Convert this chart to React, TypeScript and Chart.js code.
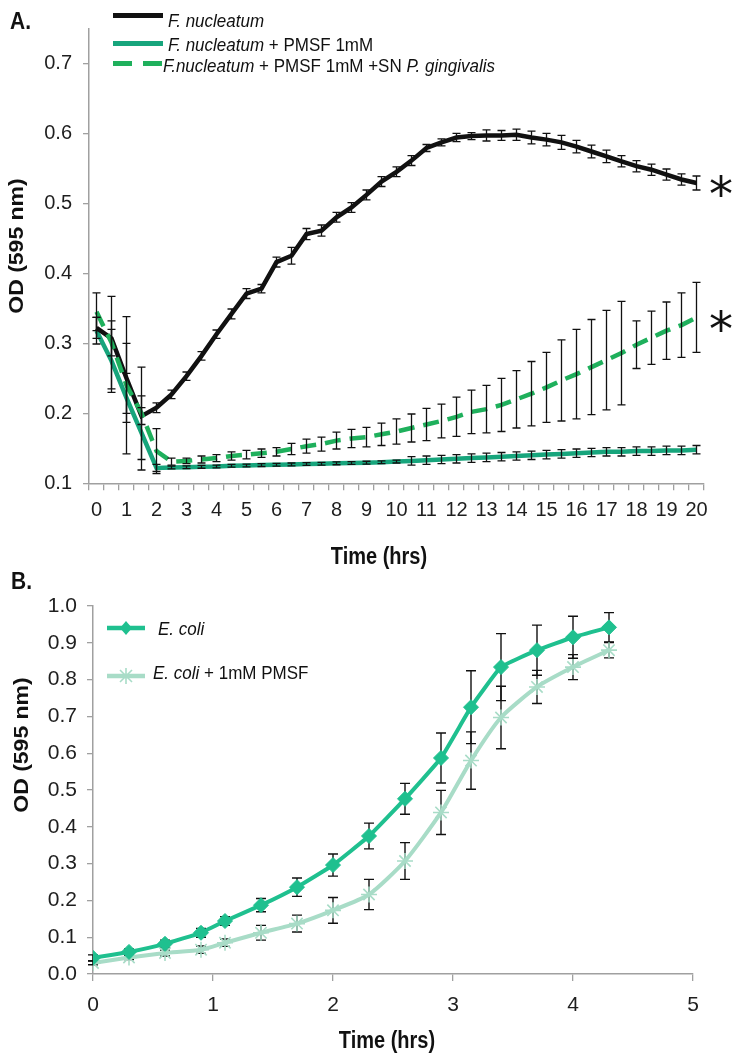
import React, { useEffect, useRef } from 'react';
import { Chart, registerables } from 'chart.js';

Chart.register(...registerables);

// ---------- Panel A data ----------
const timesA = [0, 0.5, 1, 1.5, 2, 2.5, 3, 3.5, 4, 4.5, 5, 5.5, 6, 6.5, 7, 7.5, 8, 8.5, 9, 9.5, 10, 10.5, 11, 11.5, 12, 12.5, 13, 13.5, 14, 14.5, 15, 15.5, 16, 16.5, 17, 17.5, 18, 18.5, 19, 19.5, 20];

const fnOD = [0.322, 0.307, 0.25, 0.196, 0.208, 0.227, 0.253, 0.282, 0.313, 0.342, 0.371, 0.378, 0.416, 0.425, 0.456, 0.461, 0.48, 0.494, 0.512, 0.531, 0.545, 0.561, 0.579, 0.587, 0.594, 0.596, 0.597, 0.597, 0.598, 0.594, 0.591, 0.587, 0.581, 0.574, 0.567, 0.56, 0.553, 0.548, 0.541, 0.534, 0.529];
const fnErr = [0.015, 0.025, 0.05, 0.012, 0.007, 0.006, 0.006, 0.006, 0.006, 0.007, 0.007, 0.006, 0.007, 0.012, 0.008, 0.008, 0.007, 0.007, 0.007, 0.007, 0.007, 0.007, 0.005, 0.005, 0.006, 0.005, 0.008, 0.007, 0.008, 0.009, 0.009, 0.01, 0.009, 0.009, 0.009, 0.008, 0.008, 0.008, 0.008, 0.008, 0.01];

const pmsfOD = [0.318, 0.275, 0.222, 0.172, 0.122, 0.1225, 0.123, 0.1235, 0.124, 0.125, 0.1255, 0.126, 0.1265, 0.127, 0.1275, 0.128, 0.1285, 0.129, 0.1295, 0.13, 0.131, 0.132, 0.133, 0.134, 0.135, 0.136, 0.137, 0.138, 0.139, 0.14, 0.141, 0.142, 0.143, 0.144, 0.145, 0.145, 0.146, 0.146, 0.147, 0.147, 0.148];
const pmsfErr = [0.019, 0.045, 0.035, 0.053, 0.005, 0.002, 0.002, 0.002, 0.002, 0.002, 0.002, 0.002, 0.002, 0.002, 0.002, 0.002, 0.002, 0.002, 0.002, 0.002, 0.002, 0.006, 0.006, 0.006, 0.006, 0.006, 0.006, 0.006, 0.006, 0.006, 0.006, 0.006, 0.006, 0.006, 0.006, 0.006, 0.006, 0.006, 0.006, 0.006, 0.006];

const snOD = [0.345, 0.301, 0.24, 0.2, 0.146, 0.131, 0.132, 0.134, 0.136, 0.139, 0.141, 0.143, 0.145, 0.149, 0.153, 0.156, 0.161, 0.164, 0.166, 0.17, 0.174, 0.179, 0.184, 0.189, 0.195, 0.202, 0.206, 0.212, 0.22, 0.228, 0.237, 0.247, 0.256, 0.266, 0.276, 0.286, 0.298, 0.308, 0.318, 0.326, 0.337];
const snErr = [0.027, 0.066, 0.098, 0.066, 0.032, 0.005, 0.004, 0.005, 0.005, 0.006, 0.006, 0.006, 0.006, 0.008, 0.01, 0.01, 0.012, 0.013, 0.014, 0.016, 0.018, 0.02, 0.023, 0.024, 0.028, 0.031, 0.034, 0.038, 0.041, 0.046, 0.05, 0.058, 0.064, 0.068, 0.071, 0.074, 0.034, 0.038, 0.041, 0.046, 0.05];

const yTicksA = [0.1, 0.2, 0.3, 0.4, 0.5, 0.6, 0.7];

// ---------- Panel B data ----------
const timesB = [0, 0.3, 0.6, 0.9, 1.1, 1.4, 1.7, 2.0, 2.3, 2.6, 2.9, 3.15, 3.4, 3.7, 4.0, 4.3];
const ecoliOD = [0.044, 0.06, 0.082, 0.112, 0.144, 0.187, 0.236, 0.296, 0.375, 0.476, 0.587, 0.725, 0.834, 0.88, 0.915, 0.942];
const ecoliErr = [0.008, 0.008, 0.01, 0.012, 0.012, 0.018, 0.025, 0.03, 0.035, 0.042, 0.068, 0.099, 0.091, 0.068, 0.057, 0.04];
const ecoliPmsfOD = [0.03, 0.045, 0.057, 0.066, 0.085, 0.112, 0.137, 0.173, 0.216, 0.307, 0.439, 0.58, 0.697, 0.78, 0.834, 0.88];
const ecoliPmsfErr = [0.005, 0.006, 0.008, 0.01, 0.01, 0.02, 0.023, 0.035, 0.041, 0.05, 0.06, 0.078, 0.085, 0.045, 0.034, 0.021];

const FONT = '"Liberation Sans", Arial, sans-serif';
const BLACK = '#111111';
const GREEN_SOLID = '#17a57c';
const GREEN_DASH = '#1fb05c';
const ECOLI = '#1fc08f';
const ECOLI_PMSF = '#a8dcc7';
const AXIS = '#a0a0a0';
const TICK_TXT = '#1e1e1e';

type ErrSet = { index: number; errors: number[] };

function makeErrorPlugin(sets: ErrSet[], when: 'before' | 'after', cap: number, width: number) {
  const draw = (chart: any) => {
    const ctx = chart.ctx as CanvasRenderingContext2D;
    const ys = chart.scales.y;
    ctx.save();
    ctx.strokeStyle = '#111';
    ctx.lineWidth = width;
    sets.forEach(({ index, errors }) => {
      const meta = chart.getDatasetMeta(index);
      const vals = chart.data.datasets[index].data;
      meta.data.forEach((pt: any, j: number) => {
        const raw = vals[j];
        const v = typeof raw === 'number' ? raw : raw.y;
        const e = errors[j];
        if (!e) return;
        const x = pt.x;
        const y1 = ys.getPixelForValue(v + e);
        const y2 = ys.getPixelForValue(v - e);
        ctx.beginPath();
        ctx.moveTo(x, y1);
        ctx.lineTo(x, y2);
        ctx.moveTo(x - cap, y1);
        ctx.lineTo(x + cap, y1);
        ctx.moveTo(x - cap, y2);
        ctx.lineTo(x + cap, y2);
        ctx.stroke();
      });
    });
    ctx.restore();
  };
  return {
    id: 'errorBars' + when,
    beforeDatasetsDraw(chart: any) { if (when === 'before') draw(chart); },
    afterDatasetsDraw(chart: any) { if (when === 'after') draw(chart); },
  };
}

const A_H = 565;
const B_H = 496;

function configA(): any {
  return {
    type: 'line',
    data: {
      labels: timesA.map(String),
      datasets: [
        { label: 'F.nucleatum + PMSF 1mM +SN P. gingivalis', data: snOD, borderColor: GREEN_DASH, borderWidth: 4.5, borderDash: [16, 9], pointRadius: 0, order: 0, tension: 0 },
        { label: 'F. nucleatum', data: fnOD, borderColor: BLACK, borderWidth: 4.5, pointRadius: 0, order: 1, tension: 0 },
        { label: 'F. nucleatum + PMSF 1mM', data: pmsfOD, borderColor: GREEN_SOLID, borderWidth: 4.5, pointRadius: 0, order: 2, tension: 0 },
      ],
    },
    options: {
      responsive: false,
      maintainAspectRatio: false,
      animation: false,
      devicePixelRatio: 1,
      layout: { padding: { left: 0, right: 29, top: 28.3, bottom: 0 } },
      plugins: { legend: { display: false }, tooltip: { enabled: false } },
      scales: {
        x: {
          type: 'category',
          offset: true,
          grid: { display: true, drawOnChartArea: false, drawTicks: true, tickLength: 7, color: AXIS, offset: true, lineWidth: 1.3 },
          border: { display: true, color: AXIS, width: 1.5 },
          ticks: {
            autoSkip: false, maxRotation: 0, minRotation: 0, padding: 8, color: TICK_TXT,
            font: { size: 20, family: FONT },
            callback: (_v: any, i: number) => (i % 2 === 0 ? String(timesA[i]) : ''),
          },
          afterFit: (s: any) => { s.height = A_H - 483.3; },
        },
        y: {
          min: 0.1,
          max: 0.75,
          afterBuildTicks: (s: any) => { s.ticks = yTicksA.map((v) => ({ value: v })); },
          grid: { display: true, drawOnChartArea: false, drawTicks: true, tickLength: 6, color: AXIS, lineWidth: 1.3 },
          border: { display: true, color: AXIS, width: 1.5 },
          ticks: { padding: 11, color: TICK_TXT, font: { size: 20, family: FONT }, callback: (v: any) => Number(v).toFixed(1) },
          afterFit: (s: any) => { s.width = 89; },
        },
      },
    },
    plugins: [makeErrorPlugin([{ index: 0, errors: snErr }, { index: 1, errors: fnErr }, { index: 2, errors: pmsfErr }], 'after', 4, 1.3)],
  };
}

function configB(): any {
  return {
    type: 'line',
    data: {
      datasets: [
        {
          label: 'E. coli', data: timesB.map((t, i) => ({ x: t, y: ecoliOD[i] })),
          borderColor: ECOLI, borderWidth: 4, pointStyle: 'rectRot', pointRadius: 7.5,
          pointBackgroundColor: ECOLI, pointBorderColor: ECOLI, pointBorderWidth: 1, order: 0, tension: 0.1,
        },
        {
          label: 'E. coli + 1mM PMSF', data: timesB.map((t, i) => ({ x: t, y: ecoliPmsfOD[i] })),
          borderColor: ECOLI_PMSF, borderWidth: 4, pointStyle: 'star', pointRadius: 8,
          pointBackgroundColor: ECOLI_PMSF, pointBorderColor: ECOLI_PMSF, pointBorderWidth: 1.6, order: 1, tension: 0.2,
        },
      ],
    },
    options: {
      responsive: false,
      maintainAspectRatio: false,
      animation: false,
      devicePixelRatio: 1,
      layout: { padding: { left: 0, right: 40, top: 46, bottom: 0 } },
      plugins: { legend: { display: false }, tooltip: { enabled: false } },
      scales: {
        x: {
          type: 'linear', min: 0, max: 5,
          grid: { display: true, drawOnChartArea: false, drawTicks: true, tickLength: 7, color: AXIS, lineWidth: 1.3 },
          border: { display: true, color: AXIS, width: 1.5 },
          ticks: { stepSize: 1, padding: 12, color: TICK_TXT, font: { size: 21, family: FONT }, callback: (v: any) => String(v) },
          afterFit: (s: any) => { s.height = B_H - 414; },
        },
        y: {
          type: 'linear', min: 0, max: 1,
          grid: { display: true, drawOnChartArea: false, drawTicks: true, tickLength: 6, color: AXIS, lineWidth: 1.3 },
          border: { display: true, color: AXIS, width: 1.5 },
          ticks: { stepSize: 0.1, padding: 10, color: TICK_TXT, font: { size: 21, family: FONT }, callback: (v: any) => Number(v).toFixed(1) },
          afterFit: (s: any) => { s.width = 93; },
        },
      },
    },
    plugins: [makeErrorPlugin([{ index: 0, errors: ecoliErr }, { index: 1, errors: ecoliPmsfErr }], 'before', 5, 1.4)],
  };
}

const abs = (left: number, top: number, extra: any = {}): any => ({ position: 'absolute', left, top, whiteSpace: 'nowrap', ...extra });

function Txt({ left, cy, size, bold, children, stretch = 1.12, originLeft = true }: any) {
  return (
    <div style={abs(left, cy - size / 2, { fontSize: size, lineHeight: `${size}px`, fontWeight: bold ? 'bold' : 'normal', color: '#111', transform: `scaleY(${stretch})`, transformOrigin: originLeft ? 'left center' : 'center center' })}>
      {children}
    </div>
  );
}

function CenterTxt({ cx, cy, size, rotate, children, stretch = 1.15 }: any) {
  const tf = rotate
    ? `translate(-50%, -50%) rotate(-90deg) scaleX(${stretch})`
    : `translate(-50%, -50%) scaleY(${stretch})`;
  return (
    <div style={abs(cx, cy, { fontSize: size, lineHeight: `${size}px`, fontWeight: 'bold', color: '#111', transform: tf })}>
      {children}
    </div>
  );
}

export default function App() {
  const refA = useRef<HTMLCanvasElement>(null);
  const refB = useRef<HTMLCanvasElement>(null);

  useEffect(() => {
    const a = new Chart(refA.current as HTMLCanvasElement, configA());
    const b = new Chart(refB.current as HTMLCanvasElement, configB());
    return () => { a.destroy(); b.destroy(); };
  }, []);

  return (
    <div style={{ position: 'absolute', left: 0, top: 0, width: 733, height: 1056, background: '#fff', overflow: 'hidden', fontFamily: FONT }}>
      <canvas ref={refA} width={733} height={A_H} style={{ position: 'absolute', left: 0, top: 0 }} />
      <canvas ref={refB} width={733} height={B_H} style={{ position: 'absolute', left: 0, top: 560 }} />

      {/* Panel labels */}
      <Txt left={10} cy={20} size={21} bold>A.</Txt>
      <Txt left={11} cy={580} size={21} bold>B.</Txt>

      {/* Panel A legend */}
      <svg style={abs(100, 0)} width={70} height={80}>
        <line x1={13} y1={15.5} x2={63} y2={15.5} stroke={BLACK} strokeWidth={5} />
        <line x1={13} y1={43.5} x2={63} y2={43.5} stroke={GREEN_SOLID} strokeWidth={5} />
        <line x1={13} y1={63.5} x2={63} y2={63.5} stroke={GREEN_DASH} strokeWidth={5} strokeDasharray="19 11" />
      </svg>
      <Txt left={168} cy={20} size={17}><i>F. nucleatum</i></Txt>
      <Txt left={168} cy={44} size={17}><i>F. nucleatum</i> + PMSF 1mM</Txt>
      <Txt left={163} cy={65} size={17}><i>F.nucleatum</i> + PMSF 1mM +SN <i>P. gingivalis</i></Txt>

      {/* Significance marks */}
      <div style={abs(709, 170, { fontSize: 48, lineHeight: '48px', fontFamily: '"DejaVu Sans", sans-serif', color: '#111' })}>*</div>
      <div style={abs(709, 305, { fontSize: 48, lineHeight: '48px', fontFamily: '"DejaVu Sans", sans-serif', color: '#111' })}>*</div>

      {/* Panel A axis titles */}
      <CenterTxt cx={16} cy={246} size={20} rotate>OD (595 nm)</CenterTxt>
      <CenterTxt cx={379} cy={556} size={20}>Time (hrs)</CenterTxt>

      {/* Panel B legend */}
      <svg style={abs(100, 610)} width={60} height={80}>
        <line x1={7} y1={18} x2={45} y2={18} stroke={ECOLI} strokeWidth={4.5} />
        <polygon points="26,11 32,18 26,25 20,18" fill={ECOLI} />
        <line x1={7} y1={66} x2={45} y2={66} stroke={ECOLI_PMSF} strokeWidth={4.5} />
        <g stroke={ECOLI_PMSF} strokeWidth={1.6}>
          <line x1={26} y1={58} x2={26} y2={74} />
          <line x1={18} y1={66} x2={34} y2={66} />
          <line x1={20} y1={60} x2={32} y2={72} />
          <line x1={32} y1={60} x2={20} y2={72} />
        </g>
      </svg>
      <Txt left={158} cy={628} size={17}><i>E. coli</i></Txt>
      <Txt left={153} cy={672} size={17}><i>E. coli</i> + 1mM PMSF</Txt>

      {/* Panel B axis titles */}
      <CenterTxt cx={21} cy={745} size={20} rotate>OD (595 nm)</CenterTxt>
      <CenterTxt cx={387} cy={1040} size={20}>Time (hrs)</CenterTxt>
    </div>
  );
}
